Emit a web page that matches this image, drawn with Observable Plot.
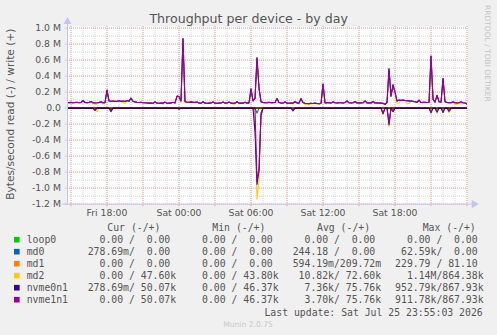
<!DOCTYPE html>
<html><head><meta charset="utf-8">
<script src="https://cdn.jsdelivr.net/npm/d3@7"></script>
<script src="https://cdn.jsdelivr.net/npm/@observablehq/plot@0.6"></script>
<style>
html,body{margin:0;padding:0;background:#f0f0f0;}
#wrap{position:relative;width:497px;height:335px;overflow:hidden;background:#f0f0f0;}
</style></head><body><div id="wrap"></div>
<script>
// ---------- data ----------
const titleText = "Throughput per device - by day";
const yLabelText = "Bytes/second read (-) / write (+)";
const seriesNames = ["loop0","md0","md1","md2","nvme0n1","nvme1n1"];
const seriesColors = ["#00cc00","#0066b3","#ff8000","#ffcc00","#330099","#990099"];
const xTickHours = [-6, 0, 6, 12, 18];
const xTickLabels = ["Fri 18:00","Sat 00:00","Sat 06:00","Sat 12:00","Sat 18:00"];
const yTicks = [1000,800,600,400,200,0,-200,-400,-600,-800,-1000,-1200];
const yTickLabels = ["1.0 M","0.8 M","0.6 M","0.4 M","0.2 M","0.0","-0.2 M","-0.4 M","-0.6 M","-0.8 M","-1.0 M","-1.2 M"];
// time: hours relative to Sat 00:00, samples every 10 minutes from Fri 14:40
const startHour = -9.333;
const stepHours = 1/6;
// write throughput (k bytes/s), one value per 10 min
const nvmeWrite = [
 70,68,72,66,70,74,68,70,95,70,
 66,70,82,68,64,66,70,78,66,68,
 225,90,
 85,88,84,86,92,85,88,84,95,86,
 125,85,
 78,72,70,74,68,66,64,
 62,64,60,78,62,60,64,62,75,60,62,64,72,64,
 150,145,90,868,80,
 76,74,78,74,72,75,
 64,62,80,62,60,62,64,78,62,60,62,64,78,62,64,76,62,60,62,80,62,64,62,74,62,64,
 240,90,120,630,250,80,
 70,66,68,72,66,68,70,
 120,70,
 64,62,78,62,60,64,62,82,64,62,
 120,70,
 60,58,56,60,58,62,58,56,60,
 300,65,
 66,68,64,78,66,64,68,66,64,70,90,66,64,66,82,64,66,64,66,90,64,66,64,85,64,66,64,62,60,
 46.4,70,490,150,290,200,90,
 100,98,102,96,92,90,88,84,80,
 72,100,70,74,72,70,72,
 650,110,75,160,80,75,370,80,
 70,68,66,80,68,64,66,78,66,64,50
];
const md2Write = [
 68,66,55,64,68,72,66,68,92,68,
 64,68,80,55,50,52,68,76,52,66,
 222,88,
 83,86,82,84,90,83,70,60,92,84,
 122,83,
 76,70,68,72,66,64,62,
 60,62,58,76,60,58,62,48,73,58,60,62,70,62,
 147,142,70,864,78,
 74,72,76,72,70,73,
 62,60,78,60,58,60,62,76,60,58,60,62,76,60,62,74,60,50,48,78,60,62,60,72,60,62,
 236,88,115,620,245,78,
 68,64,66,70,64,66,68,
 117,68,
 62,60,76,60,58,62,48,80,62,60,
 117,68,
 46,45,44,58,56,60,56,46,58,
 295,63,
 64,66,62,76,64,62,66,64,62,68,88,64,62,64,80,62,64,62,64,88,62,64,62,83,62,64,62,60,58,
 43.8,68,485,145,285,195,60,
 60,98,100,94,60,58,86,82,78,
 70,98,68,72,70,68,70,
 640,108,73,155,78,73,365,78,
 68,66,64,78,50,48,64,50,64,62,47.6
];
// read throughput (k bytes/s, drawn negative) as [sample index, value] points
const md2Read = [[0,0],[13,0],[14,-20],[15,-45],[16,0],[93,0],[94,-150],[95,-1140],[96,-900],[97,-50],[98,0],
 [157,0],[158,-80],[159,0],[160,0],[161,-225],[162,0],[163,-40],[164,0],[181,0],[182,-40],[183,0],[184,0],[185,-65],[186,0],
 [187,0],[188,-40],[189,0],[190,0],[191,-60],[192,0],[200,0]];
const nvme0Read = [[0,0],[13,0],[14,-25],[15,0],[21,0],[22,-45],[23,0],[55,0],[56,-15],[57,0],[93,0],[94,-300],[95,-953],[96,-780],[97,-100],[98,0],
 [112,0],[113,-35],[114,0],[157,0],[158,-70],[159,0],[160,0],[161,-210],[162,0],[163,-45],[164,0],[181,0],[182,-60],[183,0],
 [184,0],[185,-50],[186,0],[187,0],[188,-55],[189,0],[190,0],[191,-40],[192,0],[200,0]];
const nvme1Read = [[0,0],[13,0],[14,-30],[15,0],[21,0],[22,-20],[23,0],[94,0],[95,-912],[96,-760],[97,-60],[98,0],
 [112,0],[113,-25],[114,0],[157,0],[158,-60],[159,0],[160,0],[161,-180],[162,0],[163,-40],[164,0],[181,0],[182,-50],[183,0],
 [184,0],[185,-40],[186,0],[187,0],[188,-45],[189,0],[190,0],[191,-35],[192,0],[200,0]];
const md0Read = [[0,0],[94,0],[95,-62.6],[96,0],[200,0]];
const zeroSeries = [[0,0],[200,0]];
// legend table
const legendHeaders = ["Cur (-/+)","Min (-/+)","Avg (-/+)","Max (-/+)"];
const legendCur = ["  0.00 /  0.00 ","278.69m/  0.00 ","  0.00 /  0.00 ","  0.00 / 47.60k","278.69m/ 50.07k","  0.00 / 50.07k"];
const legendMin = ["  0.00 /  0.00 ","  0.00 /  0.00 ","  0.00 /  0.00 ","  0.00 / 43.80k","  0.00 / 46.37k","  0.00 / 46.37k"];
const legendAvg = ["  0.00 /  0.00 ","244.18 /  0.00 ","594.19m/209.72m"," 10.82k/ 72.60k","  7.36k/ 75.76k","  3.70k/ 75.76k"];
const legendMax = ["  0.00 /  0.00 "," 62.59k/  0.00 ","229.79 / 81.10 ","  1.14M/864.38k","952.79k/867.93k","911.78k/867.93k"];
const lastUpdate = "Last update: Sat Jul 25 23:55:03 2026";
const versionText = "Munin 2.0.75";
const sideText = "RRDTOOL / TOBI OETIKER";

// ---------- build ----------
const toX = i => startHour + i * stepHours;
const rowsOf = arr => arr.map((v, i) => Array.isArray(v) ? {x: toX(v[0]), y: v[1]} : {x: toX(i), y: v});
const seriesData = [
  {read: zeroSeries, write: zeroSeries},
  {read: md0Read, write: zeroSeries},
  {read: zeroSeries, write: zeroSeries},
  {read: md2Read, write: md2Write},
  {read: nvme0Read, write: nvmeWrite},
  {read: nvme1Read, write: nvmeWrite}
];
const xDomain = [-9.29, 24.04];
const yDomain = [-1200, 1020];
const minorHours = d3.range(-9, 25, 1);
const majorHours = d3.range(-9, 25, 3);
const minorY = d3.range(-1100, 1001, 100);
const majorY = d3.range(-1200, 1001, 200);
const axisColor = "#c4c4f0";
const minorColor = "#d6d6d6";
const majorColor = "#eda8a8";

const lineMarks = [];
seriesData.forEach((s, k) => {
  lineMarks.push(Plot.line(rowsOf(s.read), {x: "x", y: "y", stroke: seriesColors[k], strokeWidth: 1.1, clip: true}));
  lineMarks.push(Plot.line(rowsOf(s.write), {x: "x", y: "y", stroke: seriesColors[k], strokeWidth: 1.1, clip: true}));
});

const chart = Plot.plot({
  width: 497, height: 222,
  marginLeft: 67, marginRight: 30, marginTop: 26, marginBottom: 18.4,
  x: {domain: xDomain, axis: null},
  y: {domain: yDomain, axis: null},
  style: {background: "transparent", fontFamily: "'DejaVu Sans'", fontSize: "9.3px", color: "#555", overflow: "visible"},
  marks: [
    Plot.frame({fill: "white", stroke: null}),
    Plot.ruleX(minorHours, {stroke: minorColor, strokeDasharray: "1,1"}),
    Plot.ruleY(minorY, {stroke: minorColor, strokeDasharray: "1,1"}),
    Plot.ruleX(majorHours, {stroke: majorColor, strokeDasharray: "1,1"}),
    Plot.ruleY(majorY, {stroke: majorColor, strokeDasharray: "1,1"}),
    Plot.ruleX(majorHours, {y1: -1200, y2: -1235, stroke: majorColor}),
    Plot.ruleY(majorY, {x1: xDomain[0] - 0.2, x2: xDomain[0], stroke: axisColor}),
    ...lineMarks,
    Plot.ruleY([0], {stroke: "#000", strokeWidth: 1}),
    Plot.ruleX([xDomain[0]], {y1: -1200, y2: 1075, stroke: axisColor}),
    Plot.ruleY([-1200], {x1: xDomain[0] - 0.4, x2: xDomain[1] + 0.4, stroke: axisColor}),
    Plot.dot([{x: xDomain[0], y: 1080}], {x: "x", y: "y", symbol: "triangle", r: 3, fill: axisColor, stroke: null}),
    Plot.dot([{x: xDomain[1] + 0.55, y: -1200}], {x: "x", y: "y", symbol: "triangle", r: 3, rotate: 90, fill: axisColor, stroke: null}),
    Plot.axisX(xTickHours, {tickFormat: d => xTickLabels[xTickHours.indexOf(d)], tickSize: 0, tickPadding: 5.6, anchor: "bottom", label: null}),
    Plot.axisY(yTicks, {tickFormat: d => yTickLabels[yTicks.indexOf(d)], tickSize: 0, tickPadding: 6.5, anchor: "left", label: null})
  ]
});
chart.style.position = "absolute";
chart.style.left = "0px";
chart.style.top = "0px";
const wrap = d3.select("#wrap");
wrap.node().appendChild(chart);

// text overlay: title, labels, legend
const svg = wrap.append("svg").attr("width", 497).attr("height", 335)
  .style("position", "absolute").style("left", "0px").style("top", "0px").style("pointer-events", "none");
svg.append("text").attr("x", 248.7).attr("y", 23.2).attr("text-anchor", "middle")
  .style("font", "12.6px 'DejaVu Sans'").attr("fill", "#555").text(titleText);
svg.append("text").attr("transform", "translate(13.5,114.2) rotate(-90)").attr("text-anchor", "middle")
  .style("font", "10.6px 'DejaVu Sans'").attr("fill", "#555").text(yLabelText);
svg.append("text").attr("transform", "translate(484.5,5) rotate(90)").attr("text-anchor", "start")
  .style("font", "7.5px 'DejaVu Sans'").attr("fill", "#c4c4c4").text(sideText);
svg.append("text").attr("x", 248).attr("y", 326.7).attr("text-anchor", "middle")
  .style("font", "7.6px 'DejaVu Sans'").attr("fill", "#c8c8c8").text(versionText);

const mono = "9.8px 'DejaVu Sans Mono'";
const headerX = [107.3, 212.3, 317, 422.7];
const fieldX = [87.7, 190.2, 292.7, 395.1];
legendHeaders.forEach((h, j) => {
  svg.append("text").attr("x", headerX[j]).attr("y", 231.1).style("font", mono).style("white-space", "pre").attr("fill", "#555").text(h);
});
const cols = [legendCur, legendMin, legendAvg, legendMax];
seriesNames.forEach((name, k) => {
  const base = 243.2 + k * 12;
  svg.append("rect").attr("x", 14).attr("y", base - 6.3).attr("width", 5.6).attr("height", 5.6).attr("fill", seriesColors[k]);
  svg.append("text").attr("x", 26.7).attr("y", base).style("font", mono).style("white-space", "pre").attr("fill", "#555").text(name);
  cols.forEach((col, j) => {
    svg.append("text").attr("x", fieldX[j]).attr("y", base).style("font", mono).style("white-space", "pre").attr("fill", "#555").text(col[k]);
  });
});
svg.append("text").attr("x", 482.7).attr("y", 315.8).attr("text-anchor", "end").style("font", mono).style("white-space", "pre").attr("fill", "#555").text(lastUpdate);
</script></body></html>
